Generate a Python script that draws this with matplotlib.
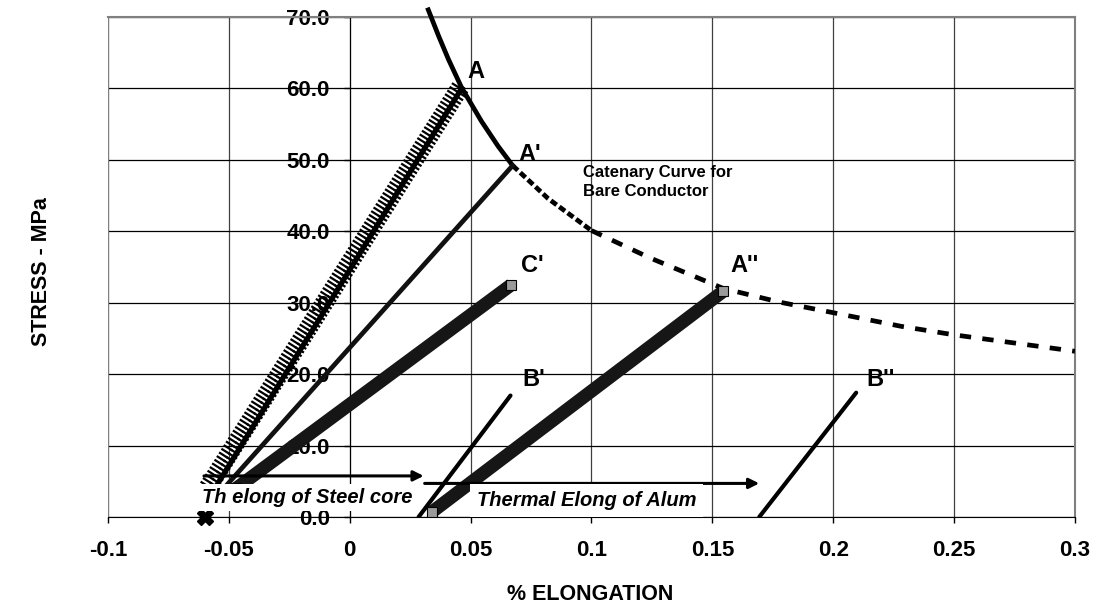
import matplotlib
matplotlib.use("Agg")
import matplotlib.pyplot as plt
import matplotlib.patheffects as pe

plt.rcParams["font.family"] = ["Liberation Sans", "DejaVu Sans"]
plt.rcParams["font.weight"] = "bold"

# stress (MPa) against % elongation
steel_x = [-0.0589, 0.046]
steel_y = [4.0, 60.3]

line_a_x = [-0.0558, 0.0463]
line_a_y = [4.0, 60.0]

line_a1_x = [-0.0521, 0.0674]
line_a1_y = [4.0, 49.2]

line_c1_x = [-0.047, 0.0668]
line_c1_y = [4.0, 32.5]

line_a2_x = [0.034, 0.1545]
line_a2_y = [0.7, 31.6]

line_b1_x = [0.0285, 0.0665]
line_b1_y = [0.0, 17.0]

line_b2_x = [0.1694, 0.2095]
line_b2_y = [0.0, 17.4]

origin_x = [-0.060]
origin_y = [0.0]

catenary_x = [0.0325, 0.0367, 0.0408, 0.0463, 0.0545, 0.0614, 0.0674, 0.0744,
              0.082, 0.100, 0.124, 0.1545, 0.1775, 0.200, 0.228, 0.250, 0.274, 0.300]
catenary_y = [71.0, 67.4, 64.1, 60.1, 55.4, 51.9, 49.2, 47.0,
              44.6, 40.1, 36.3, 32.0, 30.1, 28.6, 26.7, 25.5, 24.4, 23.2]

steel_arrow_x = [-0.0603, 0.0306]
steel_arrow_y = 5.75
alum_arrow_x = [0.031, 0.1694]
alum_arrow_y = 4.7

x_ticks = [-0.1, -0.05, 0, 0.05, 0.1, 0.15, 0.2, 0.25, 0.3]
x_tick_labels = ["-0.1", "-0.05", "0", "0.05", "0.1", "0.15", "0.2", "0.25", "0.3"]
y_ticks = [0, 10, 20, 30, 40, 50, 60, 70]

point_labels = ["A", "A'", "C'", "A''", "B'", "B''"]
point_label_x = [0.052, 0.0744, 0.0755, 0.1634, 0.076, 0.2194]
point_label_y = [62.3, 50.7, 35.2, 35.2, 19.3, 19.3]

fig = plt.figure(figsize=(10.95, 6.09), dpi=100)
ax = fig.add_axes([0.0986, 0.1511, 0.8831, 0.8210])
ax.set_xlim(-0.1, 0.3)
ax.set_ylim(0, 70)
ax.set_axisbelow(True)

# grid / frame
ax.set_xticks(x_ticks)
ax.set_xticklabels(x_tick_labels)
ax.set_yticks(y_ticks)
ax.set_yticklabels([f"{v:.1f}" for v in y_ticks])
ax.xaxis.grid(True, color="#404040", lw=0.9)
ax.yaxis.grid(True, color="black", lw=0.9)
ax.spines["left"].set_position(("data", 0))
ax.spines["left"].set_color("black")
ax.spines["bottom"].set_color("black")
for side in ("top", "right"):
    ax.spines[side].set_color("#808080")
    ax.spines[side].set_linewidth(1.5)
ax.axvline(-0.1, color="#808080", lw=1.5, zorder=0.6)
ax.tick_params(axis="both", direction="out", length=4.3, width=1, labelsize=16)
ax.tick_params(axis="x", pad=12)
ax.tick_params(axis="y", pad=10)

# catenary curve: solid near the top, dashed further out
i_a1 = 6
i_mid = 9
ax.plot(catenary_x[:i_a1 + 1], catenary_y[:i_a1 + 1], color="black", lw=3.4,
        clip_on=False, zorder=3, solid_joinstyle="round")
ax.plot(catenary_x[i_a1:i_mid + 1], catenary_y[i_a1:i_mid + 1], color="black",
        lw=3.4, dashes=(1.5, 0.7), zorder=3)
ax.plot(catenary_x[i_mid:], catenary_y[i_mid:], color="black", lw=3.4,
        dashes=(2.4, 2.4), zorder=3)

# steel core band (ticked) and its line
ax.plot(steel_x, steel_y, color="black", lw=1.6, zorder=3,
        path_effects=[pe.TickedStroke(spacing=3.1, angle=90, length=1.9),
                      pe.TickedStroke(spacing=3.1, angle=-90, length=1.9)])
ax.plot(line_a_x, line_a_y, color="black", lw=3.8, zorder=4)
ax.plot(line_a1_x, line_a1_y, color="#111111", lw=3.4, zorder=4)

# thick bands with square end markers
for bx, by in ((line_c1_x, line_c1_y), (line_a2_x, line_a2_y)):
    ax.plot(bx, by, color="#161616", lw=9.5, solid_capstyle="butt", zorder=4,
            marker="s", ms=7.5, mfc="#9a9a9a", mec="black", mew=0.8)

ax.plot(line_b1_x, line_b1_y, color="black", lw=3.0, solid_capstyle="round", zorder=4)
ax.plot(line_b2_x, line_b2_y, color="black", lw=3.0, solid_capstyle="round", zorder=4)
ax.plot(origin_x, origin_y, linestyle="none", marker="X", ms=11, color="black",
        clip_on=False, zorder=4)

# thermal elongation arrows
ax.annotate("", xy=(steel_arrow_x[1], steel_arrow_y), xytext=(steel_arrow_x[0], steel_arrow_y),
            arrowprops=dict(arrowstyle="-|>", color="black", lw=2.2, mutation_scale=15,
                            shrinkA=0, shrinkB=0), zorder=5)
ax.annotate("", xy=(alum_arrow_x[1], alum_arrow_y), xytext=(alum_arrow_x[0], alum_arrow_y),
            arrowprops=dict(arrowstyle="-|>", color="black", lw=2.2, mutation_scale=15,
                            shrinkA=0, shrinkB=0), zorder=5)

ax.text(-0.0612, 2.7, "Th elong of Steel core", fontsize=14.5, style="italic",
        ha="left", va="center", zorder=6,
        bbox=dict(boxstyle="square,pad=0.2", fc="white", ec="none"))
ax.text(0.0525, 2.3, "Thermal Elong of Alum", fontsize=14.5, style="italic",
        ha="left", va="center", zorder=6,
        bbox=dict(boxstyle="square,pad=0.35", fc="white", ec="none"))

for lab, lx, ly in zip(point_labels, point_label_x, point_label_y):
    ax.text(lx, ly, lab, fontsize=17, ha="center", va="center", zorder=6)

ax.text(0.0965, 46.9, "Catenary Curve for\nBare Conductor", fontsize=12,
        ha="left", va="center", linespacing=1.3, zorder=6)

fig.text(590 / 1095, 1 - 594 / 609, "% ELONGATION", fontsize=15.5,
         ha="center", va="center")
fig.text(42 / 1095, 1 - 272 / 609, "STRESS - MPa", fontsize=15.5,
         ha="center", va="center", rotation=90)

fig.savefig("out.png", dpi=100)
